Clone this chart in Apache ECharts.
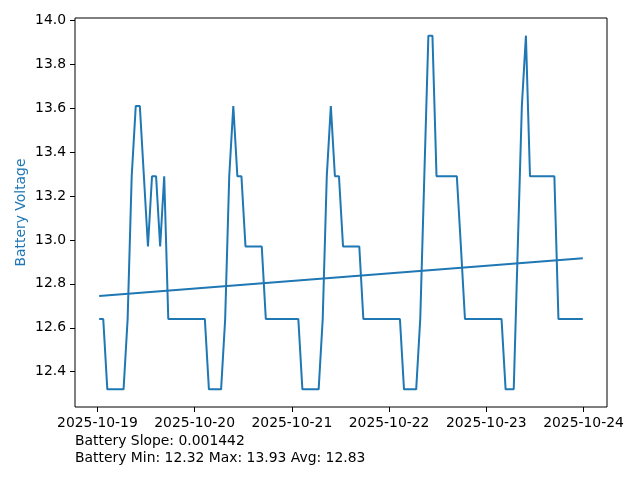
<!DOCTYPE html>
<html>
<head>
<meta charset="utf-8">
<script src="https://cdn.jsdelivr.net/npm/echarts@6/dist/echarts.min.js"></script>
<style>
html,body{margin:0;padding:0;background:#fff;}
#chart{width:640px;height:480px;}
</style>
</head>
<body>
<div id="chart"></div>
<script>
// ---- Data ----
// Hourly-ish samples starting 2025-10-19 00:26 (UTC), one reading per sample
const SAMPLE_START = '2025-10-19 00:26';
const SAMPLE_STEP_MIN = 60.2;
const voltage = [
  12.64, 12.64, 12.32, 12.32, 12.32, 12.32, 12.32, 12.64, 13.29, 13.61,
  13.61, 13.29, 12.97, 13.29, 13.29, 12.97, 13.29, 12.64, 12.64, 12.64,
  12.64, 12.64, 12.64, 12.64, 12.64, 12.64, 12.64, 12.32, 12.32, 12.32,
  12.32, 12.64, 13.29, 13.61, 13.29, 13.29, 12.97, 12.97, 12.97, 12.97,
  12.97, 12.64, 12.64, 12.64, 12.64, 12.64, 12.64, 12.64, 12.64, 12.64,
  12.32, 12.32, 12.32, 12.32, 12.32, 12.64, 13.29, 13.61, 13.29, 13.29,
  12.97, 12.97, 12.97, 12.97, 12.97, 12.64, 12.64, 12.64, 12.64, 12.64,
  12.64, 12.64, 12.64, 12.64, 12.64, 12.32, 12.32, 12.32, 12.32, 12.64,
  13.29, 13.93, 13.93, 13.29, 13.29, 13.29, 13.29, 13.29, 13.29, 12.97,
  12.64, 12.64, 12.64, 12.64, 12.64, 12.64, 12.64, 12.64, 12.64, 12.64,
  12.32, 12.32, 12.32, 12.97, 13.61, 13.93, 13.29, 13.29, 13.29, 13.29,
  13.29, 13.29, 13.29, 12.64, 12.64, 12.64, 12.64, 12.64, 12.64, 12.64
];
// Trend line values at first and last sample
const trendValues = [12.745, 12.917];
const xTickLabels = ['2025-10-19', '2025-10-20', '2025-10-21', '2025-10-22', '2025-10-23', '2025-10-24'];
const yTickLabels = [12.4, 12.6, 12.8, 13.0, 13.2, 13.4, 13.6, 13.8, 14.0];
const yAxisTitle = 'Battery Voltage';
const footerLines = ['Battery Slope: 0.001442', 'Battery Min: 12.32 Max: 13.93 Avg: 12.83'];

// ---- Build ----
function parseUTC(s) {
  const [d, t] = s.split(' ');
  const [Y, M, D] = d.split('-').map(Number);
  const [h, m] = (t || '00:00').split(':').map(Number);
  return Date.UTC(Y, M - 1, D, h, m);
}
const t0 = parseUTC(SAMPLE_START);
const times = voltage.map((_, i) => t0 + i * SAMPLE_STEP_MIN * 60000);
const seriesData = voltage.map((v, i) => [times[i], v]);
const tFirst = times[0], tLast = times[times.length - 1];
const trendData = [[tFirst, trendValues[0]], [tLast, trendValues[1]]];
const xTicks = xTickLabels.map(s => parseUTC(s));

const span = tLast - tFirst;
const xMin = tFirst - 0.05 * span, xMax = tLast + 0.05 * span;
const vMin = Math.min(...voltage), vMax = Math.max(...voltage);
const vSpan = vMax - vMin;
const yMin = vMin - 0.05 * vSpan, yMax = vMax + 0.05 * vSpan;

function fmtDate(ms) {
  const d = new Date(ms);
  const p = n => String(n).padStart(2, '0');
  return d.getUTCFullYear() + '-' + p(d.getUTCMonth() + 1) + '-' + p(d.getUTCDate());
}

const FONT = 'DejaVu Sans';
const FS = 13.9;
const BLUE = '#1f77b4';

const chart = echarts.init(document.getElementById('chart'), null, {renderer: 'canvas'});
chart.setOption({
  animation: false,
  backgroundColor: '#fff',
  grid: {left: 75, right: 33, top: 18, bottom: 73, show: true, borderColor: '#000', borderWidth: 1, backgroundColor: 'transparent'},
  xAxis: {
    type: 'value', min: xMin, max: xMax,
    splitLine: {show: false},
    axisLine: {show: false},
    axisTick: {show: true, inside: false, length: 5, lineStyle: {color: '#000', width: 1}, customValues: xTicks},
    axisLabel: {show: true, customValues: xTicks, formatter: v => fmtDate(v), color: '#000', fontFamily: FONT, fontSize: FS, margin: 9, hideOverlap: false, showMinLabel: true, showMaxLabel: true}
  },
  yAxis: {
    type: 'value', min: yMin, max: yMax,
    name: yAxisTitle, nameLocation: 'middle', nameGap: 47, nameMoveOverlap: false,
    nameTextStyle: {color: BLUE, fontFamily: FONT, fontSize: FS},
    splitLine: {show: false},
    axisLine: {show: false},
    axisTick: {show: true, inside: false, length: 5, lineStyle: {color: '#000', width: 1}, customValues: yTickLabels},
    axisLabel: {show: true, customValues: yTickLabels, formatter: v => Number(v).toFixed(1), color: '#000', fontFamily: FONT, fontSize: FS, margin: 9}
  },
  series: [
    {type: 'line', data: seriesData, showSymbol: false, symbol: 'none', lineStyle: {color: BLUE, width: 2}, itemStyle: {color: BLUE}, z: 3},
    {type: 'line', data: trendData, showSymbol: false, symbol: 'none', lineStyle: {color: BLUE, width: 2}, itemStyle: {color: BLUE}, z: 3}
  ],
  graphic: footerLines.map((txt, i) => ({
    type: 'text', left: 75, top: 434.5 + i * 16.5,
    style: {text: txt, fill: '#000', font: FS + 'px "' + FONT + '"'}
  }))
});
</script>
</body>
</html>
